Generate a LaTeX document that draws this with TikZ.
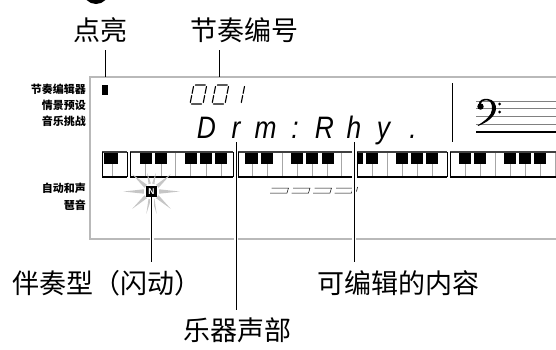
\documentclass[tikz,border=0pt]{standalone}
\usepackage{fontspec}
\newfontfamily\cjk{Noto Sans CJK SC}
\newfontfamily\lcd{Liberation Sans}
\usetikzlibrary{calc}

\begin{document}
\begin{tikzpicture}[x=1pt, y=-1pt,
    callout/.style={font=\cjk\fontsize{27}{27}\selectfont, inner sep=0pt, anchor=base},
    side/.style={font=\cjk\bfseries\fontsize{11}{12}\selectfont, inner sep=0pt, anchor=base east},
    leader/.style={line width=0.9pt},
    halo/.style={preaction={draw=white, line width=4pt}},
    frame/.style={draw=gray!55, line width=2pt},
    lcdchar/.style={font=\lcd\itshape\fontsize{31}{31}\selectfont, inner sep=0pt, anchor=base},
    seg/.style={line width=1.1pt, line cap=round},
    ray/.style={fill=gray!45},
    wkey/.style={draw=gray!70, line width=0.6pt},
    bkey/.style={fill=black},
]
    \useasboundingbox (0,0) rectangle (556,349);
    \clip (0,0) rectangle (556,349);

    % step marker, cut off by the top edge
    \fill (96,-9) circle (13);

    % display frame
    \draw[frame] (560,77) -- (90,77) -- (90,239) -- (560,239);
    \coordinate (boxtop) at (90,77);

    % captions left of the display
    \node[side] (rhyedit) at (86,93.5) {节奏编辑器};
    \node[side] (preset) at (86,109.5) {情景预设};
    \node[side] (challenge) at (86,125.5) {音乐挑战};
    \node[side] (autoharm) at (86,192.5) {自动和声};
    \node[side] (arpeggio) at (86,209.5) {琶音};

    % indicator
    \node[fill=black, minimum width=5.5, minimum height=10, inner sep=0pt] (litmark) at (105,90) {};

    % pattern number 001 (seven segments)
    \foreach \x in {190,212} {
        \begin{scope}[shift={(\x,104)}, xslant=0.2]
            \draw[seg] (1.5,-19) -- (11.5,-19) (13,-17.5) -- (13,-10.5) (13,-8.5) -- (13,-1.5)
                       (11.5,0) -- (1.5,0) (0,-1.5) -- (0,-8.5) (0,-10.5) -- (0,-17.5);
        \end{scope}
    }
    \begin{scope}[shift={(228,104)}, xslant=0.2]
        \draw[seg] (13,-17.5) -- (13,-10.5) (13,-8.5) -- (13,-1.5);
    \end{scope}
    \coordinate (patnum) at (219,94);

    % editable text
    \foreach \c [count=\i] in {D,r,m,:,R,h,y,.} {
        \node[lcdchar] (c\i) at (177+29.5*\i,138) {\scalebox{0.85}[1]{\c}};
    }

    % staff with bass clef
    \draw[line width=1pt] (452,83) -- (452,142);
    \foreach \y in {101,108.5,116,124}
        \draw[gray, line width=0.5pt] (476,\y) -- (560,\y);
    \draw[line width=1.2pt] (476,132) -- (560,132);
    \fill (478.5,105) .. controls (478.5,99.5) and (484,98.5) .. (487.5,98.8)
        .. controls (494,99.5) and (496.8,104.5) .. (495.8,110)
        .. controls (494.5,117) and (487,122.5) .. (478,126)
        -- (477.8,125.3) .. controls (485.5,120.5) and (491.5,115.5) .. (492,109.5)
        .. controls (492.5,103.5) and (490,100.3) .. (486.5,100.3)
        .. controls (483,100.3) and (480.5,102) .. (480,105) -- cycle;
    \fill (480.5,106.5) circle (3.2);
    \fill (499.5,104) circle (1.5) (499.5,112) circle (1.5);

    % keyboard
    \foreach \x in {112, 145,161,175.5,190.5,206,221, 252,267,282,297,312,327,341,
                    372,387,402,417,432, 465,480,495,510,525,540,555}
        \draw[wkey] (\x,152) -- (\x,177);
    \foreach \a/\b in {103.5/118, 139.5/151.5,155/167,184.5/196.5,200/212,215/227,
                       244.5/257.5,260.5/273,290.5/303,306/318,321.5/333.5,
                       357/363,366/378,396/408,411/423,426/438,
                       459/471,474/486,504/516,519/531,534/546}
        \fill[bkey] (\a,152) rectangle (\b,164);
    \foreach \a/\b in {102/127,130/233,238/352,357/447,450/562} {
        \draw[line width=1.8pt, black!75] (\a,152) -- (\b,152);
        \draw[line width=1.2pt] (\a,177) -- (\b,177);
        \draw[line width=0.9pt] (\a,152) -- (\a,177) (\b,152) -- (\b,177);
    }

    % chord bar segments
    \foreach \x in {270,291.5,313,334.5}
        \draw[line width=0.5pt] (\x,193) -- (\x+17,193) -- (\x+18.5,188) -- (\x+1.5,188);
    \draw[line width=0.6pt] (357.5,187) -- (356.5,191.5);

    % flashing accompaniment icon
    \begin{scope}[shift={(151.5,191.5)}]
        \foreach \a/\r/\w in {0/28/16, 180/28/16, 42/26/14, 138/26/14, 222/26/14, 318/26/14,
                              77/23/9, 103/23/9, 257/19/9, 283/19/9}
            \fill[ray] (\a+\w:8) -- (\a:\r) -- (\a-\w:8) -- cycle;
    \end{scope}
    \node[fill=black, text=white, font=\lcd\bfseries\fontsize{8.5}{8.5}\selectfont,
          minimum size=11, inner sep=0pt] (accmp) at (151.5,191.5) {N};

    % callouts
    \node[callout] (lit) at (100.5,40) {点亮};
    \node[callout] (patlbl) at (244,40) {节奏编号};
    \node[callout, anchor=base west] (acclbl) at (12,293) {伴奏型（闪动）};
    \node[callout] (editlbl) at (398,293) {可编辑的内容};
    \node[callout] (partlbl) at (237,340) {乐器声部};

    \draw[leader, shorten <=8pt] (lit.south -| litmark) -- (litmark |- boxtop);
    \draw[leader, shorten <=8pt] (patlbl.south -| patnum) -- (patnum |- boxtop);
    \draw[leader, halo, shorten >=8pt] (accmp.south) -- (accmp |- acclbl.north);
    \draw[leader, halo, shorten <=4pt, shorten >=7pt] (c2.south) -- (c2 |- partlbl.north);
    \draw[leader, halo, shorten <=4pt, shorten >=8pt] (c6.south) -- (c6 |- editlbl.north);
\end{tikzpicture}
\end{document}
